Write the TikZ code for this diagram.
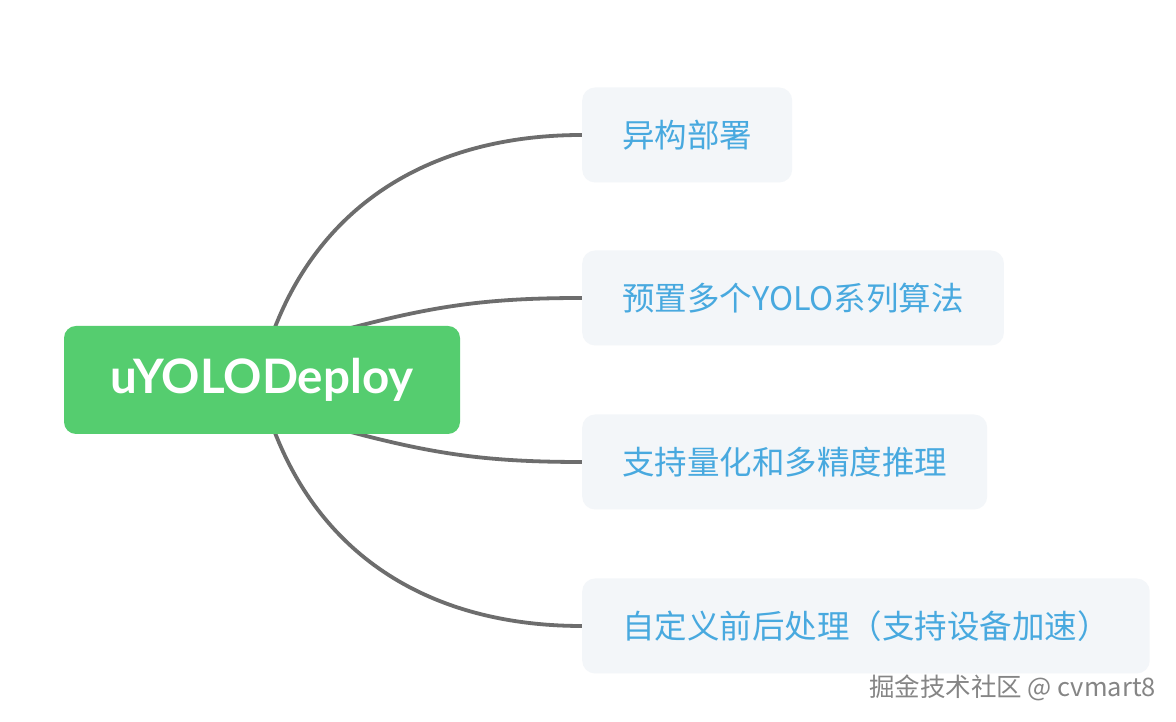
\documentclass[tikz,border=0pt]{standalone}
\usepackage{fontspec}
\setmainfont{Lato}
\newfontfamily\cjk{Noto Sans CJK SC}
\usetikzlibrary{positioning,backgrounds,calc}
\definecolor{rootc}{HTML}{55CD6F}
\definecolor{leafc}{HTML}{F3F6F9}
\definecolor{txtc}{HTML}{48A9DF}
\definecolor{linkc}{HTML}{6D6D6D}
\definecolor{markc}{HTML}{858585}
\tikzset{
  root/.style={rectangle, rounded corners=12pt, fill=rootc, text=white, inner sep=0pt,
    minimum width=396pt, minimum height=108pt, font=\fontsize{47.5}{50}\selectfont\bfseries},
  leaf/.style={rectangle, rounded corners=13pt, fill=leafc, text=txtc, inner xsep=40pt,
    inner ysep=0pt, minimum height=95pt, anchor=west, font=\cjk\fontsize{32.5}{36}\selectfont},
  link/.style={linkc, line width=3.8pt, line cap=round},
  wmark/.style={text=markc, anchor=west, inner sep=0pt, font=\cjk\fontsize{25.5}{28}\selectfont},
}

\begin{document}
\begin{tikzpicture}[x=1pt,y=1pt]
  \useasboundingbox (0,0) rectangle (1176,722);
  % root and the four branches
  \node[root] (uyolo) at (262,342) {uYOLODeploy};
  \node[leaf] (hetero) at (582,587) {异构部署};
  \node[leaf] (preset) at (582,424) {预置多个YOLO系列算法};
  \node[leaf] (quant) at (582,260) {支持量化和多精度推理};
  \node[leaf] (prepost) at (582,96) {自定义前后处理（支持设备加速）};
  \node[wmark] (wm) at (869,34) {掘金技术社区 @ cvmart8};
  \begin{scope}[on background layer]
    \fill[white] (0,0) rectangle (1176,722);
    \draw[link] ($(uyolo.north)+(12,-4)$) to[out=69,in=180] (hetero.west);
    \draw[link] ($(uyolo.north)+(82,-4)$) to[out=15,in=180] (preset.west);
    \draw[link] ($(uyolo.south)+(82,4)$) to[out=-15,in=180] (quant.west);
    \draw[link] ($(uyolo.south)+(12,4)$) to[out=-69,in=180] (prepost.west);
  \end{scope}
\end{tikzpicture}
\end{document}
